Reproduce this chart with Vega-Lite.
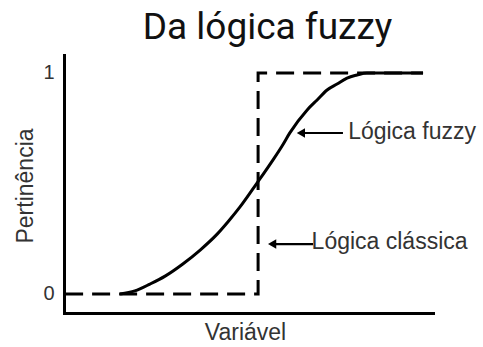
{
  "$schema": "https://vega.github.io/schema/vega-lite/v6.json",
  "autosize": "none",
  "width": 369,
  "height": 258,
  "padding": {"left": 64, "top": 55, "right": 50, "bottom": 34},
  "background": "white",
  "config": {"view": {"stroke": null}},
  "title": {"text": "Da lógica fuzzy", "font": "Roboto", "fontSize": 37, "fontWeight": "normal", "color": "#111111", "dx": 19, "offset": 8},
  "datasets": {
    "classica": [
      {"i": 0, "x": 0.3, "y": 0},
      {"i": 1, "x": 52.6, "y": 0},
      {"i": 2, "x": 52.6, "y": 1},
      {"i": 3, "x": 97.3, "y": 1}
    ],
    "fuzzy": [
      {"i": 0, "x": 15.2, "y": 0},
      {"i": 1, "x": 19.2, "y": 0.014},
      {"i": 2, "x": 23.3, "y": 0.045},
      {"i": 3, "x": 27.4, "y": 0.081},
      {"i": 4, "x": 32.2, "y": 0.136},
      {"i": 5, "x": 36.9, "y": 0.199},
      {"i": 6, "x": 41.5, "y": 0.271},
      {"i": 7, "x": 44.4, "y": 0.326},
      {"i": 8, "x": 47.7, "y": 0.394},
      {"i": 9, "x": 52.3, "y": 0.502},
      {"i": 10, "x": 56.6, "y": 0.606},
      {"i": 11, "x": 59.1, "y": 0.67},
      {"i": 12, "x": 61.2, "y": 0.729},
      {"i": 13, "x": 65.9, "y": 0.833},
      {"i": 14, "x": 68.6, "y": 0.878},
      {"i": 15, "x": 71.3, "y": 0.923},
      {"i": 16, "x": 74.0, "y": 0.95},
      {"i": 17, "x": 76.7, "y": 0.977},
      {"i": 18, "x": 79.4, "y": 0.991},
      {"i": 19, "x": 82.1, "y": 1.0},
      {"i": 20, "x": 97.3, "y": 1.0}
    ],
    "arrows": [
      {"label": "Lógica fuzzy", "x": 64.2, "x2": 75.6, "y": 0.7285, "tx": 77.0, "ty": 0.731},
      {"label": "Lógica clássica", "x": 56.4, "x2": 67.5, "y": 0.226, "tx": 67.1, "ty": 0.233}
    ]
  },
  "layer": [
    {
      "data": {"name": "classica"},
      "mark": {"type": "line", "color": "black", "strokeWidth": 3, "strokeDash": [18, 9], "strokeCap": "butt"},
      "encoding": {
        "x": {"field": "x", "type": "quantitative", "scale": {"domain": [0, 100], "nice": false, "zero": false},
          "axis": {"title": "Variável", "labels": false, "ticks": false, "grid": false, "domainColor": "black", "domainWidth": 3, "domainCap": "square",
            "titleFont": "Liberation Sans", "titleFontSize": 23, "titleFontWeight": "normal", "titleColor": "#333333", "titlePadding": 8, "titleX": 181}},
        "y": {"field": "y", "type": "quantitative", "scale": {"domain": [-0.086, 1.0814], "nice": false, "zero": false},
          "axis": {"title": "Pertinência", "values": [0, 1], "format": "d", "ticks": false, "tickSize": 0, "grid": false, "domainColor": "black", "domainWidth": 3, "domainCap": "square",
            "labelFont": "Liberation Sans", "labelFontSize": 20, "labelColor": "#333333", "labelPadding": 10, "labelBaseline": "middle",
            "titleFont": "Liberation Sans", "titleFontSize": 23, "titleFontWeight": "normal", "titleColor": "#333333",
            "titleAngle": -90, "titleX": -32, "titleY": 130.5, "titleAlign": "center", "titleBaseline": "alphabetic"}},
        "order": {"field": "i", "type": "quantitative"}
      }
    },
    {
      "data": {"name": "fuzzy"},
      "mark": {"type": "line", "color": "black", "strokeWidth": 3, "interpolate": "monotone"},
      "encoding": {
        "x": {"field": "x", "type": "quantitative", "scale": {"domain": [0, 100], "nice": false, "zero": false}},
        "y": {"field": "y", "type": "quantitative", "scale": {"domain": [-0.086, 1.0814], "nice": false, "zero": false}},
        "order": {"field": "i", "type": "quantitative"}
      }
    },
    {
      "data": {"name": "arrows"},
      "mark": {"type": "rule", "color": "black", "strokeWidth": 2.2},
      "encoding": {
        "x": {"field": "x", "type": "quantitative", "scale": {"domain": [0, 100], "nice": false, "zero": false}},
        "x2": {"field": "x2"},
        "y": {"field": "y", "type": "quantitative", "scale": {"domain": [-0.086, 1.0814], "nice": false, "zero": false}}
      }
    },
    {
      "data": {"name": "arrows"},
      "mark": {"type": "point", "shape": "triangle-left", "filled": true, "color": "black", "opacity": 1, "size": 90},
      "encoding": {
        "x": {"field": "x", "type": "quantitative", "scale": {"domain": [0, 100], "nice": false, "zero": false}},
        "y": {"field": "y", "type": "quantitative", "scale": {"domain": [-0.086, 1.0814], "nice": false, "zero": false}}
      }
    },
    {
      "data": {"name": "arrows"},
      "mark": {"type": "text", "align": "left", "baseline": "middle", "font": "Liberation Sans", "fontSize": 23, "color": "#333333"},
      "encoding": {
        "x": {"field": "tx", "type": "quantitative", "scale": {"domain": [0, 100], "nice": false, "zero": false}},
        "y": {"field": "ty", "type": "quantitative", "scale": {"domain": [-0.086, 1.0814], "nice": false, "zero": false}},
        "text": {"field": "label", "type": "nominal"}
      }
    }
  ]
}
